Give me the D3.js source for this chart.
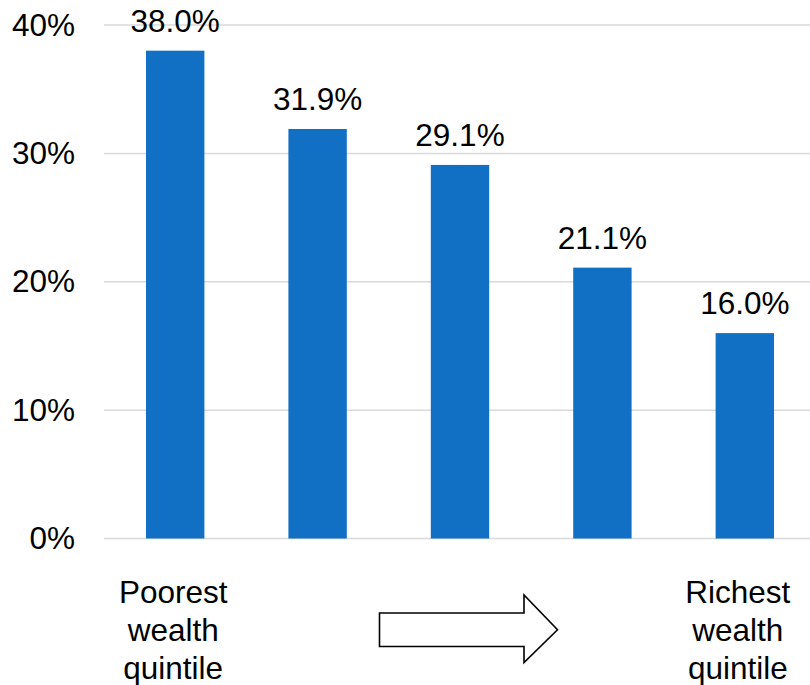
<!DOCTYPE html>
<html>
<head>
<meta charset="utf-8">
<script src="https://cdn.jsdelivr.net/npm/d3@7"></script>
<style>
  html, body { margin: 0; padding: 0; background: #fff; }
  svg { display: block; font-family: "Liberation Sans", Arial, sans-serif; }
</style>
</head>
<body>
<svg id="chart" width="810" height="685"></svg>
<script>
// Share by wealth quintile, poorest to richest
const quintiles = ["Q1", "Q2", "Q3", "Q4", "Q5"];
const shares = [38.0, 31.9, 29.1, 21.1, 16.0];
const yTicks = [0, 10, 20, 30, 40];
const poorestLabel = ["Poorest", "wealth", "quintile"];
const richestLabel = ["Richest", "wealth", "quintile"];

const svg = d3.select("#chart");
const plotLeft = 104, plotRight = 816, plotTop = 25, plotBottom = 538.5;
const fontSize = 31.5;

const x = d3.scaleBand().domain(quintiles).range([plotLeft, plotRight]).paddingInner(0.59).paddingOuter(0.295);
const y = d3.scaleLinear().domain([0, 40]).range([plotBottom, plotTop]);

// Horizontal gridlines
svg.append("g").selectAll("line").data(yTicks).join("line")
  .attr("x1", plotLeft).attr("x2", 810)
  .attr("y1", d => y(d)).attr("y2", d => y(d))
  .attr("stroke", "#d9d9d9").attr("stroke-width", 1.5);

// Y axis labels
const yAxis = d3.axisLeft(y).tickValues(yTicks).tickFormat(d => d + "%").tickSize(0).tickPadding(0);
const yg = svg.append("g").attr("transform", "translate(75,0)").call(yAxis);
yg.select(".domain").remove();
yg.selectAll("text").attr("font-size", fontSize).attr("fill", "#000")
  .attr("font-family", "Liberation Sans, Arial, sans-serif");

// Bars
svg.append("g").selectAll("rect").data(shares).join("rect")
  .attr("x", (d, i) => x(quintiles[i]))
  .attr("width", x.bandwidth())
  .attr("y", d => y(d))
  .attr("height", d => y(0) - y(d))
  .attr("fill", "#1170c4");

// Value labels
svg.append("g").selectAll("text").data(shares).join("text")
  .attr("x", (d, i) => x(quintiles[i]) + x.bandwidth() / 2)
  .attr("y", d => y(d) - 19)
  .attr("text-anchor", "middle")
  .attr("font-size", fontSize)
  .attr("fill", "#000")
  .text(d => d.toFixed(1) + "%");

// Category end labels
function endLabel(lines, cx) {
  svg.append("text")
    .attr("text-anchor", "middle")
    .attr("font-size", fontSize)
    .attr("fill", "#000")
    .selectAll("tspan").data(lines).join("tspan")
    .attr("x", cx)
    .attr("y", (d, i) => 603 + i * 38)
    .text(d => d);
}
endLabel(poorestLabel, x(quintiles[0]) + x.bandwidth() / 2 - 2);
endLabel(richestLabel, x(quintiles[4]) + x.bandwidth() / 2 - 7);

// Direction arrow
const ax0 = 379.5, ax1 = 557.5, headX = 524, bodyTop = 613, bodyBot = 646.5, headTop = 595, headBot = 662.5;
const mid = (bodyTop + bodyBot) / 2;
svg.append("path")
  .attr("d", `M${ax0},${bodyTop} L${headX},${bodyTop} L${headX},${headTop} L${ax1},${mid} L${headX},${headBot} L${headX},${bodyBot} L${ax0},${bodyBot} Z`)
  .attr("fill", "#fff")
  .attr("stroke", "#000")
  .attr("stroke-width", 1.6);
</script>
</body>
</html>
